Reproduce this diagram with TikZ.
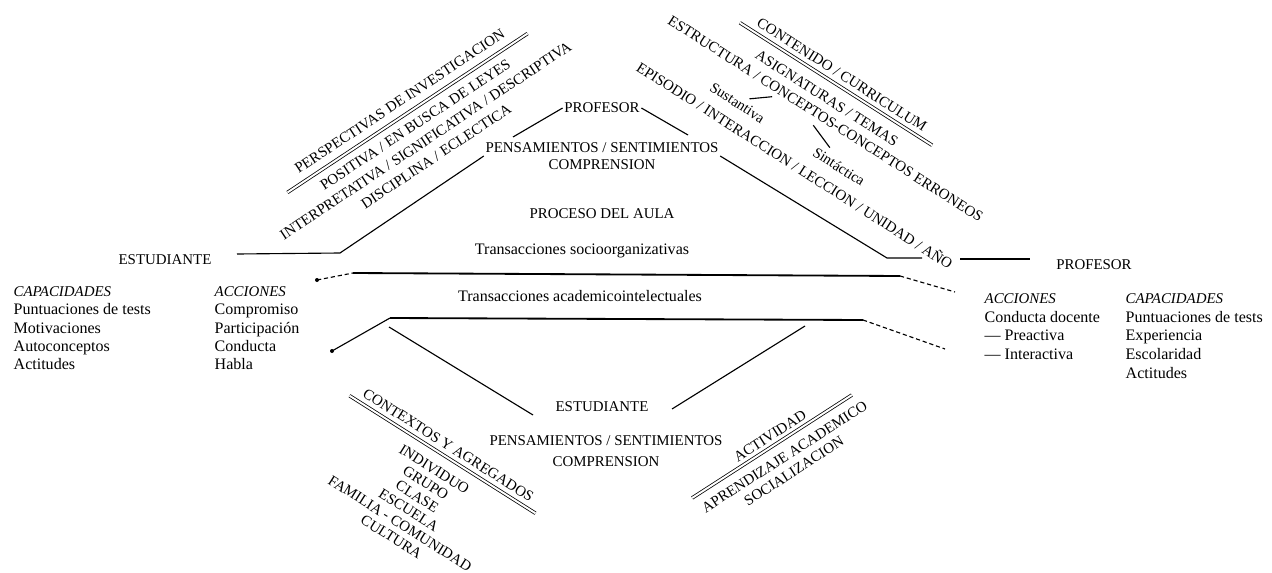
\documentclass[tikz,border=0pt]{standalone}
\usepackage{fontspec}
\setmainfont{Liberation Serif}
\usetikzlibrary{positioning,calc}

\begin{document}
\begin{tikzpicture}[
  x=0.025cm, y=-0.025cm,
  every node/.style={inner sep=1pt},
  capstxt/.style={font=\fontsize{10.6}{12.5}\selectfont,align=center},
  lowtxt/.style={font=\fontsize{11.4}{13}\selectfont},
  listtxt/.style={font=\fontsize{11.4}{13}\selectfont,align=left,anchor=north west},
  rottxt/.style={font=\fontsize{10.6}{11.4}\selectfont,align=center},
  subtxt/.style={font=\fontsize{10.5}{12}\selectfont},
  dline/.style={double,double distance=1.4pt,line width=0.55pt},
  link/.style={line width=0.8pt},
  trans/.style={line width=1.3pt},
  tail/.style={line width=0.8pt,densely dashed},
]
\useasboundingbox (0,0) rectangle (1272,573);

% --- centre: classroom process ---
\node[capstxt] (prof) at (602,108) {PROFESOR};
\node[capstxt] (pensp) at (602,156) {PENSAMIENTOS / SENTIMIENTOS\\COMPRENSION};
\node[capstxt] (proc) at (602,214) {PROCESO DEL AULA};
\node[lowtxt] (tsoc) at (582,251) {Transacciones socioorganizativas};
\node[lowtxt] (tacad) at (580,296) {Transacciones academicointelectuales};
\node[capstxt] (este) at (602,407) {ESTUDIANTE};
\node[capstxt,font=\fontsize{10.6}{15}\selectfont] (pense) at (606,451) {PENSAMIENTOS / SENTIMIENTOS\\COMPRENSION};

% --- left: student ---
\node[capstxt] (estl) at (165,260) {ESTUDIANTE};
\node[listtxt] (capl) at (12,285) {{\fontsize{10.6}{13}\selectfont\itshape CAPACIDADES}\\Puntuaciones de tests\\Motivaciones\\Autoconceptos\\Actitudes};
\node[listtxt] (accl) at (213,285) {{\fontsize{10.6}{13}\selectfont\itshape ACCIONES}\\Compromiso\\Participación\\Conducta\\Habla};

% --- right: teacher ---
\node[capstxt] (profr) at (1094,265) {PROFESOR};
\node[listtxt,font=\fontsize{11.4}{13.3}\selectfont] (accr) at (983,292) {{\fontsize{10.6}{13.3}\selectfont\itshape ACCIONES}\\Conducta docente\\--- Preactiva\\--- Interactiva};
\node[listtxt,font=\fontsize{11.4}{13.3}\selectfont] (capr) at (1124,292) {{\fontsize{10.6}{13.3}\selectfont\itshape CAPACIDADES}\\Puntuaciones de tests\\Experiencia\\Escolaridad\\Actitudes};

% --- connectors round the teacher ---
\coordinate (pa) at (513,137);
\coordinate (pb) at (688,135);
\coordinate (ka) at (340,253);
\coordinate (kb) at (237,254);
\coordinate (kc) at (887,258);
\coordinate (kd) at (922,258);
\coordinate (ke) at (960,259);
\coordinate (kf) at (1030,259);
\draw[link] (prof.west) -- (pa);
\draw[link] (prof.east) -- (pb);
\draw[link] (pensp.west) -- (ka) -- (kb);
\draw[link] (pensp.east) -- (kc) -- (kd);
\draw[link] (ke) -- (kf);

% --- transaction lines ---
\coordinate (ta) at (317,280);
\coordinate (tb) at (353,273);
\coordinate (tc) at (900,276);
\coordinate (td) at (955,292);
\fill (ta) circle (2);
\draw[tail] (ta) -- (tb);
\draw[trans] (tb) -- (tc);
\draw[tail] (tc) -- (td);
\coordinate (la) at (332,351);
\coordinate (lb) at (390,318);
\coordinate (lc) at (863,320);
\coordinate (ld) at (945,349);
\fill (la) circle (2);
\draw[link] (la) -- (lb);
\draw[trans] (lb) -- (lc);
\draw[tail] (lc) -- (ld);

% --- connectors round the student ---
\coordinate (sa) at (389,327);
\coordinate (sb) at (533,415);
\coordinate (sc) at (672,409);
\coordinate (sd) at (805,326);
\draw[link] (sa) -- (sb);
\draw[link] (sc) -- (sd);

% --- research perspectives (top left) ---
\begin{scope}[shift={(407.5,113)},rotate=33.5,transform shape]
  \node[rottxt] (persp) at (0,-14) {PERSPECTIVAS DE INVESTIGACION};
  \draw[dline] (-144,0) -- (144,0);
  \node[rottxt,font=\fontsize{10.6}{13.5}\selectfont] (enfoq) at (0,33) {POSITIVA / EN BUSCA DE LEYES\\INTERPRETATIVA / SIGNIFICATIVA / DESCRIPTIVA\\DISCIPLINA / ECLECTICA};
\end{scope}

% --- content / curriculum (top right) ---
\begin{scope}[shift={(836,84)},rotate=-32.5,transform shape]
  \node[rottxt] (cont) at (0,-11) {CONTENIDO / CURRICULUM};
  \draw[dline] (-114,0) -- (114,0);
  \node[rottxt] (asig) at (0,17) {ASIGNATURAS / TEMAS};
  \node[rottxt] (estr) at (10,35) {ESTRUCTURA / CONCEPTOS-CONCEPTOS ERRONEOS};
  \node[subtxt] (sust) at (-73,69) {Sustantiva};
  \node[subtxt] (sint) at (47,68) {Sintáctica};
  \node[rottxt] (epis) at (9,90) {EPISODIO / INTERACCION / LECCION / UNIDAD / AÑO};
  \coordinate (ua) at (-65,59);
  \coordinate (ub) at (-47,45);
  \coordinate (uc) at (3,47);
  \coordinate (ud) at (29,57);
  \draw[link] (ua) -- (ub);
  \draw[link] (uc) -- (ud);
\end{scope}

% --- contexts (bottom left) ---
\begin{scope}[shift={(442.5,454.5)},rotate=-32.3,transform shape]
  \node[rottxt] (ctx) at (0,-11) {CONTEXTOS Y AGREGADOS};
  \draw[dline] (-110,0) -- (110,0);
  \node[rottxt] (nivel) at (1,57) {INDIVIDUO\\GRUPO\\CLASE\\ESCUELA\\FAMILIA - COMUNIDAD\\CULTURA};
\end{scope}

% --- activity (bottom right) ---
\begin{scope}[shift={(772,446.5)},rotate=32.8,transform shape]
  \node[rottxt] (activ) at (4,-10) {ACTIVIDAD};
  \draw[dline] (-95,0) -- (95,0);
  \node[rottxt,font=\fontsize{10.6}{12.2}\selectfont] (tipo) at (5,24) {APRENDIZAJE ACADEMICO\\SOCIALIZACION};
\end{scope}
\end{tikzpicture}
\end{document}
